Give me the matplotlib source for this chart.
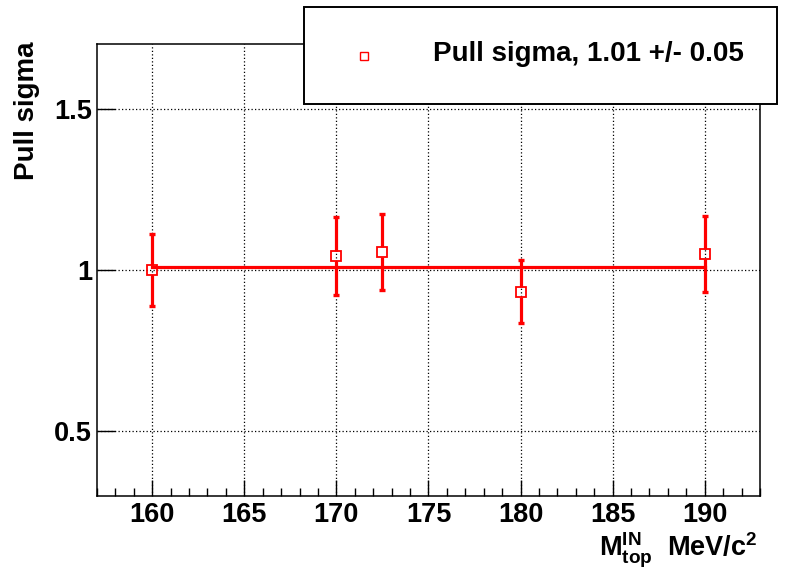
import matplotlib.pyplot as plt
from matplotlib.patches import Rectangle
from matplotlib.lines import Line2D
from matplotlib.ticker import MultipleLocator, FuncFormatter

plt.rcParams['font.family'] = ['Liberation Sans', 'DejaVu Sans']
plt.rcParams['font.weight'] = 'bold'
plt.rcParams['mathtext.fontset'] = 'custom'
plt.rcParams['mathtext.rm'] = 'Liberation Sans:bold'
plt.rcParams['mathtext.it'] = 'Liberation Sans:bold'
plt.rcParams['mathtext.bf'] = 'Liberation Sans:bold'

# pull width vs input top mass
mtop = [160, 170, 172.5, 180, 190]
pull_sigma = [1.00, 1.043, 1.055, 0.933, 1.05]
pull_sigma_err = [0.112, 0.12, 0.118, 0.097, 0.118]
fit_value = 1.01
fit_err = 0.05

W, H = 786, 576
fig = plt.figure(figsize=(W / 100, H / 100), dpi=100)
ax = fig.add_axes([97 / W, 80 / H, 663 / W, 452 / H])
ax.set_xlim(157, 193)
ax.set_ylim(0.3, 1.7)

red = '#ff0000'

# error bars stop at the marker edge, like ROOT does
ylo, yhi = ax.get_ylim()
gap = 5.0 / (ax.bbox.height / (yhi - ylo))
for x, y, e in zip(mtop, pull_sigma, pull_sigma_err):
    ax.vlines(x, y - e, y - gap, color=red, lw=2.3, zorder=3)
    ax.vlines(x, y + gap, y + e, color=red, lw=2.3, zorder=3)
    ax.plot([x, x], [y - e, y + e], ls='none', marker='_', ms=5, mew=2.4,
            color=red, zorder=3)
ax.plot(mtop, pull_sigma, ls='none', marker='s', ms=6.5, mfc='none', mec=red,
        mew=1.3, zorder=4)

# constant fit
ax.plot([mtop[0], mtop[-1]], [fit_value, fit_value], color=red, lw=2.3, zorder=5)

ax.xaxis.set_major_locator(MultipleLocator(5))
ax.xaxis.set_minor_locator(MultipleLocator(1))
ax.yaxis.set_major_locator(MultipleLocator(0.5))
ax.yaxis.set_major_formatter(FuncFormatter(lambda v, p: '%g' % v))
ax.tick_params(axis='x', which='major', direction='in', length=11.5, width=1,
               labelsize=19.5, pad=4.5, top=False)
ax.tick_params(axis='x', which='minor', direction='in', length=5.8, width=1,
               top=False)
ax.tick_params(axis='y', which='major', direction='in', length=13, width=1,
               labelsize=19.5, pad=3.5, right=False)
ax.grid(True, which='major', color='black', linestyle=(0, (1, 1.8)), linewidth=0.9)
ax.set_axisbelow(True)
for s in ax.spines.values():
    s.set_linewidth(1.1)

fig.text(27 / W, (H - 111) / H, 'Pull sigma', rotation=90, ha='center',
         va='center', fontsize=20, fontweight='bold')
fig.text(758 / W, (H - 556) / H, r'M$_{\rm top}^{\rm IN}$  MeV/c$^{2}$',
         ha='right', va='baseline', fontsize=19.5, fontweight='bold')

# legend box
fig.add_artist(Rectangle((304 / W, (H - 104) / H), 473 / W, 97 / H,
                         transform=fig.transFigure, facecolor='white',
                         edgecolor='black', lw=1.4, zorder=10))
fig.add_artist(Line2D([364 / W], [(H - 56) / H], transform=fig.transFigure,
                      ls='none', marker='s', ms=6, mfc='none', mec=red,
                      mew=1.0, zorder=11))
fig.text(433 / W, (H - 54) / H,
         'Pull sigma, %.2f +/- %.2f' % (fit_value, fit_err),
         ha='left', va='center', fontsize=20, fontweight='bold', zorder=11)

fig.savefig('out.png', dpi=100)
